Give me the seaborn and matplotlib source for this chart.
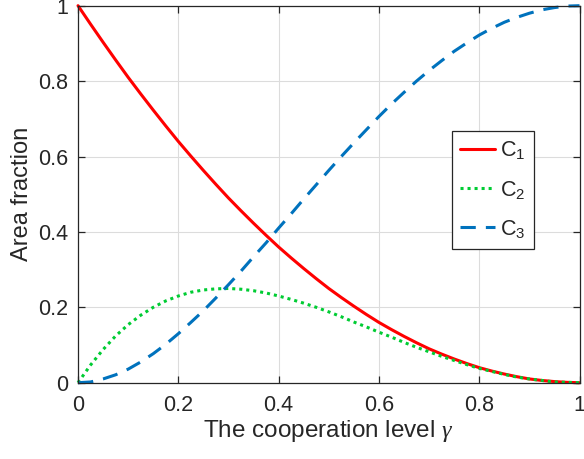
import matplotlib
matplotlib.use("Agg")
import matplotlib.pyplot as plt
import seaborn as sns
import pandas as pd

# Cooperation level and the three area fractions
gamma = [0.000, 0.025, 0.050, 0.075, 0.100, 0.125, 0.150, 0.175, 0.200, 0.225,
         0.250, 0.275, 0.300, 0.325, 0.350, 0.375, 0.400, 0.425, 0.450, 0.475,
         0.500, 0.525, 0.550, 0.575, 0.600, 0.625, 0.650, 0.675, 0.700, 0.725,
         0.750, 0.775, 0.800, 0.825, 0.850, 0.875, 0.900, 0.925, 0.950, 0.975, 1.000]
c1 = [1.000, 0.951, 0.903, 0.856, 0.810, 0.766, 0.723, 0.681, 0.640, 0.601,
      0.563, 0.526, 0.490, 0.456, 0.423, 0.391, 0.360, 0.331, 0.303, 0.276,
      0.250, 0.226, 0.203, 0.181, 0.160, 0.141, 0.123, 0.106, 0.090, 0.076,
      0.063, 0.051, 0.040, 0.031, 0.023, 0.016, 0.010, 0.006, 0.003, 0.001, 0.000]
c2 = [0.000, 0.047, 0.088, 0.124, 0.154, 0.179, 0.200, 0.217, 0.230, 0.240,
      0.246, 0.249, 0.250, 0.248, 0.244, 0.238, 0.230, 0.221, 0.211, 0.200,
      0.188, 0.175, 0.161, 0.148, 0.134, 0.121, 0.107, 0.094, 0.082, 0.070,
      0.059, 0.048, 0.038, 0.030, 0.022, 0.015, 0.010, 0.006, 0.002, 0.001, 0.000]
c3 = [0.000, 0.002, 0.010, 0.021, 0.036, 0.055, 0.077, 0.102, 0.130, 0.160,
      0.191, 0.225, 0.260, 0.296, 0.334, 0.371, 0.410, 0.448, 0.487, 0.525,
      0.563, 0.600, 0.636, 0.671, 0.706, 0.739, 0.770, 0.800, 0.828, 0.854,
      0.879, 0.901, 0.922, 0.940, 0.956, 0.969, 0.980, 0.989, 0.995, 0.999, 1.000]
series_names = ["C$_{\\mathrm{1}}$", "C$_{\\mathrm{2}}$", "C$_{\\mathrm{3}}$"]
x_ticks = [0, 0.2, 0.4, 0.6, 0.8, 1]
y_ticks = [0, 0.2, 0.4, 0.6, 0.8, 1]
x_tick_labels = ["0", "0.2", "0.4", "0.6", "0.8", "1"]
y_tick_labels = ["0", "0.2", "0.4", "0.6", "0.8", "1"]

sns.set_theme(style="white")
plt.rcParams["font.family"] = ["Liberation Sans", "DejaVu Sans"]
plt.rcParams["mathtext.fontset"] = "custom"
plt.rcParams["mathtext.rm"] = "Liberation Sans"
plt.rcParams["mathtext.it"] = "Liberation Serif:italic"

df = pd.DataFrame({
    "gamma": gamma * 3,
    "value": c1 + c2 + c3,
    "series": [series_names[0]] * len(gamma) + [series_names[1]] * len(gamma)
              + [series_names[2]] * len(gamma),
})

fig = plt.figure(figsize=(5.84, 4.59), dpi=100)
ax = fig.add_axes([0.1336, 0.1662, 0.8587, 0.8214])

styles = {
    series_names[0]: dict(color="#ff0000", dashes=None),
    series_names[1]: dict(color="#00cc33", dashes=(1.0, 1.3)),
    series_names[2]: dict(color="#0072bd", dashes=(5.0, 3.3)),
}
for name in series_names:
    sub = df[df["series"] == name]
    st = styles[name]
    sns.lineplot(data=sub, x="gamma", y="value", ax=ax,
                 color=st["color"], linewidth=2.2, label=name)
    l = ax.get_lines()[-1]
    if st["dashes"] is not None:
        l.set_dashes(st["dashes"])
        l.set_dash_capstyle("butt")
    l.set_clip_on(False)

ax.set_xlim(0, 1)
ax.set_ylim(0, 1)
ax.set_xticks(x_ticks)
ax.set_yticks(y_ticks)
ax.set_xticklabels(x_tick_labels)
ax.set_yticklabels(y_tick_labels)
ax.grid(True, color="#dcdcdc", linewidth=0.8)
ax.set_axisbelow(True)
for s in ax.spines.values():
    s.set_visible(True)
    s.set_color("#262626")
    s.set_linewidth(0.9)
ax.tick_params(direction="in", length=5, width=0.9, color="#262626",
               top=True, right=True, bottom=True, left=True,
               labelsize=15.5, labelcolor="#262626")
ax.tick_params(axis="y", pad=7)
ax.tick_params(axis="x", pad=9)

ax.set_xlabel("The cooperation level $\\gamma$", fontsize=17.5, color="#262626", labelpad=1)
ax.set_ylabel("Area fraction", fontsize=17, color="#262626", labelpad=4)

leg = ax.legend(loc="upper left", bbox_to_anchor=(0.745, 0.668), fontsize=15.5,
                frameon=True, fancybox=False, handlelength=1.6, handletextpad=0.25,
                labelspacing=0.8, borderpad=0.4, borderaxespad=0)
leg.get_frame().set_edgecolor("#262626")
leg.get_frame().set_linewidth(0.9)
leg.get_frame().set_alpha(1)

fig.savefig("out.png", dpi=100)
